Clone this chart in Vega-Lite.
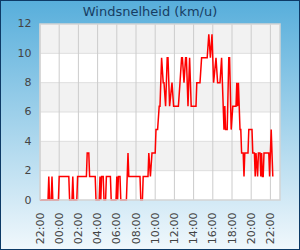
{
  "$schema": "https://vega.github.io/schema/vega-lite/v6.json",
  "width": 300,
  "height": 250,
  "autosize": {"type": "none"},
  "padding": 0,
  "background": "#eef7fc",
  "config": {
    "view": {
      "fill": {"gradient": "linear", "x1": 0, "y1": 0, "x2": 0, "y2": 1, "stops": [{"offset": 0, "color": "#57aedb"}, {"offset": 1, "color": "#f1f8fc"}]},
      "stroke": "#0d3a66",
      "strokeWidth": 2
    },
    "font": "DejaVu Sans",
    "axis": {"labelOverlap": false, "labelBound": false}
  },
  "title": {"text": "Windsnelheid (km/u)", "fontSize": 13, "font": "DejaVu Sans", "fontWeight": "normal", "color": "#173d63", "anchor": "middle", "frame": "group", "offset": -19},
  "datasets": {
    "wind": [
      {"t":"2024-05-01T22:00Z","v":0},{"t":"2024-05-01T22:50Z","v":0},{"t":"2024-05-01T22:55Z","v":1.6},{"t":"2024-05-01T23:00Z","v":0},
      {"t":"2024-05-01T23:10Z","v":0},{"t":"2024-05-01T23:15Z","v":1.6},{"t":"2024-05-01T23:20Z","v":0},{"t":"2024-05-01T23:55Z","v":0},
      {"t":"2024-05-02T00:00Z","v":1.6},{"t":"2024-05-02T01:00Z","v":1.6},{"t":"2024-05-02T01:05Z","v":0},{"t":"2024-05-02T01:20Z","v":0},
      {"t":"2024-05-02T01:25Z","v":1.6},{"t":"2024-05-02T01:30Z","v":0},{"t":"2024-05-02T01:50Z","v":0},{"t":"2024-05-02T01:55Z","v":1.6},
      {"t":"2024-05-02T02:50Z","v":1.6},{"t":"2024-05-02T02:55Z","v":3.2},{"t":"2024-05-02T03:05Z","v":3.2},{"t":"2024-05-02T03:10Z","v":1.6},
      {"t":"2024-05-02T03:45Z","v":1.6},{"t":"2024-05-02T03:50Z","v":0},{"t":"2024-05-02T04:10Z","v":0},{"t":"2024-05-02T04:15Z","v":1.6},
      {"t":"2024-05-02T04:20Z","v":0},{"t":"2024-05-02T04:25Z","v":1.6},{"t":"2024-05-02T04:35Z","v":1.6},{"t":"2024-05-02T04:40Z","v":0},
      {"t":"2024-05-02T04:50Z","v":0},{"t":"2024-05-02T04:55Z","v":1.6},{"t":"2024-05-02T05:20Z","v":1.6},{"t":"2024-05-02T05:25Z","v":0},
      {"t":"2024-05-02T05:55Z","v":0},{"t":"2024-05-02T06:00Z","v":1.6},{"t":"2024-05-02T06:05Z","v":0},{"t":"2024-05-02T06:10Z","v":1.6},
      {"t":"2024-05-02T06:20Z","v":1.6},{"t":"2024-05-02T06:25Z","v":0},{"t":"2024-05-02T07:00Z","v":0},{"t":"2024-05-02T07:10Z","v":3.2},
      {"t":"2024-05-02T07:15Z","v":1.6},{"t":"2024-05-02T08:25Z","v":1.6},{"t":"2024-05-02T08:30Z","v":0},{"t":"2024-05-02T08:40Z","v":0},
      {"t":"2024-05-02T08:45Z","v":1.6},{"t":"2024-05-02T09:15Z","v":1.6},{"t":"2024-05-02T09:20Z","v":3.2},{"t":"2024-05-02T09:30Z","v":1.6},
      {"t":"2024-05-02T09:40Z","v":3.2},{"t":"2024-05-02T10:00Z","v":3.2},{"t":"2024-05-02T10:05Z","v":4.8},{"t":"2024-05-02T10:15Z","v":4.8},
      {"t":"2024-05-02T10:25Z","v":6.4},{"t":"2024-05-02T10:30Z","v":6.4},{"t":"2024-05-02T10:40Z","v":9.7},{"t":"2024-05-02T10:50Z","v":8.0},
      {"t":"2024-05-02T10:55Z","v":8.0},{"t":"2024-05-02T11:05Z","v":6.4},{"t":"2024-05-02T11:15Z","v":9.7},{"t":"2024-05-02T11:20Z","v":9.7},
      {"t":"2024-05-02T11:30Z","v":6.4},{"t":"2024-05-02T11:45Z","v":8.0},{"t":"2024-05-02T11:55Z","v":6.4},{"t":"2024-05-02T12:25Z","v":6.4},
      {"t":"2024-05-02T12:35Z","v":8.0},{"t":"2024-05-02T12:45Z","v":9.7},{"t":"2024-05-02T12:50Z","v":9.7},{"t":"2024-05-02T13:00Z","v":8.0},
      {"t":"2024-05-02T13:10Z","v":9.7},{"t":"2024-05-02T13:15Z","v":9.7},{"t":"2024-05-02T13:25Z","v":6.4},{"t":"2024-05-02T13:35Z","v":9.7},
      {"t":"2024-05-02T13:45Z","v":6.4},{"t":"2024-05-02T14:15Z","v":6.4},{"t":"2024-05-02T14:20Z","v":8.0},{"t":"2024-05-02T14:40Z","v":8.0},
      {"t":"2024-05-02T14:50Z","v":9.7},{"t":"2024-05-02T15:25Z","v":9.7},{"t":"2024-05-02T15:35Z","v":11.3},{"t":"2024-05-02T15:45Z","v":9.7},
      {"t":"2024-05-02T15:55Z","v":11.3},{"t":"2024-05-02T16:05Z","v":8.0},{"t":"2024-05-02T16:20Z","v":9.7},{"t":"2024-05-02T16:30Z","v":8.0},
      {"t":"2024-05-02T16:45Z","v":8.0},{"t":"2024-05-02T16:55Z","v":9.7},{"t":"2024-05-02T17:00Z","v":8.0},{"t":"2024-05-02T17:10Z","v":4.8},
      {"t":"2024-05-02T17:15Z","v":6.4},{"t":"2024-05-02T17:20Z","v":4.8},{"t":"2024-05-02T17:30Z","v":4.8},{"t":"2024-05-02T17:40Z","v":9.7},
      {"t":"2024-05-02T17:45Z","v":9.7},{"t":"2024-05-02T17:55Z","v":4.8},{"t":"2024-05-02T18:05Z","v":6.4},{"t":"2024-05-02T18:25Z","v":6.4},
      {"t":"2024-05-02T18:30Z","v":8.0},{"t":"2024-05-02T18:35Z","v":6.4},{"t":"2024-05-02T18:40Z","v":8.0},{"t":"2024-05-02T18:50Z","v":4.8},
      {"t":"2024-05-02T18:55Z","v":4.8},{"t":"2024-05-02T19:00Z","v":3.2},{"t":"2024-05-02T19:10Z","v":3.2},{"t":"2024-05-02T19:15Z","v":1.6},
      {"t":"2024-05-02T19:20Z","v":3.2},{"t":"2024-05-02T19:40Z","v":3.2},{"t":"2024-05-02T19:45Z","v":4.8},{"t":"2024-05-02T20:05Z","v":4.8},
      {"t":"2024-05-02T20:10Z","v":3.2},{"t":"2024-05-02T20:20Z","v":3.2},{"t":"2024-05-02T20:25Z","v":1.6},{"t":"2024-05-02T20:30Z","v":3.2},
      {"t":"2024-05-02T20:40Z","v":1.6},{"t":"2024-05-02T20:45Z","v":3.2},{"t":"2024-05-02T20:55Z","v":3.2},{"t":"2024-05-02T21:00Z","v":1.6},
      {"t":"2024-05-02T21:05Z","v":3.2},{"t":"2024-05-02T21:10Z","v":1.6},{"t":"2024-05-02T21:15Z","v":1.6},{"t":"2024-05-02T21:20Z","v":3.2},
      {"t":"2024-05-02T21:50Z","v":3.2},{"t":"2024-05-02T21:55Z","v":1.6},{"t":"2024-05-02T22:05Z","v":4.8},{"t":"2024-05-02T22:15Z","v":1.6}
    ],
    "frame": [{"start":"2024-05-01T22:00Z","end":"2024-05-02T23:00Z","low":0,"high":12}],
    "bands": [
      {"start":"2024-05-01T22:00Z","end":"2024-05-02T23:00Z","low":2,"high":4},
      {"start":"2024-05-01T22:00Z","end":"2024-05-02T23:00Z","low":6,"high":8},
      {"start":"2024-05-01T22:00Z","end":"2024-05-02T23:00Z","low":10,"high":12}
    ],
    "hlines": [
      {"start":"2024-05-01T22:00Z","end":"2024-05-02T23:00Z","level":2},
      {"start":"2024-05-01T22:00Z","end":"2024-05-02T23:00Z","level":4},
      {"start":"2024-05-01T22:00Z","end":"2024-05-02T23:00Z","level":6},
      {"start":"2024-05-01T22:00Z","end":"2024-05-02T23:00Z","level":8},
      {"start":"2024-05-01T22:00Z","end":"2024-05-02T23:00Z","level":10}
    ],
    "vlines": [
      {"time":"2024-05-01T22:00Z","low":0,"high":12},{"time":"2024-05-02T00:00Z","low":0,"high":12},{"time":"2024-05-02T02:00Z","low":0,"high":12},
      {"time":"2024-05-02T04:00Z","low":0,"high":12},{"time":"2024-05-02T06:00Z","low":0,"high":12},{"time":"2024-05-02T08:00Z","low":0,"high":12},
      {"time":"2024-05-02T10:00Z","low":0,"high":12},{"time":"2024-05-02T12:00Z","low":0,"high":12},{"time":"2024-05-02T14:00Z","low":0,"high":12},
      {"time":"2024-05-02T16:00Z","low":0,"high":12},{"time":"2024-05-02T18:00Z","low":0,"high":12},{"time":"2024-05-02T20:00Z","low":0,"high":12},
      {"time":"2024-05-02T22:00Z","low":0,"high":12}
    ]
  },
  "layer": [
    {
      "data": {"name": "frame"},
      "mark": {"type": "rect", "fill": "#ffffff"},
      "encoding": {
        "x": {"field": "start", "type": "temporal", "title": null,
          "scale": {"type": "utc", "domain": [1714585800000, 1714698300000], "nice": false},
          "axis": {"title": null, "orient": "bottom", "offset": -50, "tickCount": 20,
            "values": [1714600800000, 1714608000000, 1714615200000, 1714622400000, 1714629600000, 1714636800000, 1714644000000, 1714651200000, 1714658400000, 1714665600000, 1714672800000, 1714680000000, 1714687200000],
            "labelExpr": "utcFormat(datum.value, '%H:%M')", "labelAngle": 270, "ticks": false, "domain": false, "grid": false,
            "labelPadding": 12, "labelFontSize": 11, "labelColor": "#444444", "labelFont": "DejaVu Sans", "labelOverlap": false, "labelFlush": false}},
        "x2": {"field": "end"},
        "y": {"field": "low", "type": "quantitative", "title": null,
          "scale": {"domain": [-3.40909, 13.63636], "nice": false, "zero": false},
          "axis": {"title": null, "orient": "left", "offset": -40, "tickCount": 20, "values": [0, 2, 4, 6, 8, 10, 12], "ticks": false, "domain": false, "grid": false,
            "labelPadding": 9, "labelFontSize": 11, "labelColor": "#444444", "labelFont": "DejaVu Sans", "labelOverlap": false, "labelFlush": false}},
        "y2": {"field": "high"}
      }
    },
    {
      "data": {"name": "bands"},
      "mark": {"type": "rect", "fill": "#f2f2f2"},
      "encoding": {
        "x": {"field": "start", "type": "temporal", "title": null},
        "x2": {"field": "end"},
        "y": {"field": "low", "type": "quantitative", "title": null},
        "y2": {"field": "high"}
      }
    },
    {
      "data": {"name": "hlines"},
      "mark": {"type": "rule", "stroke": "#dedede", "strokeWidth": 1},
      "encoding": {
        "x": {"field": "start", "type": "temporal", "title": null},
        "x2": {"field": "end"},
        "y": {"field": "level", "type": "quantitative", "title": null}
      }
    },
    {
      "data": {"name": "vlines"},
      "mark": {"type": "rule", "stroke": "#cccccc", "strokeWidth": 1},
      "encoding": {
        "x": {"field": "time", "type": "temporal", "title": null},
        "y": {"field": "low", "type": "quantitative", "title": null},
        "y2": {"field": "high"}
      }
    },
    {
      "data": {"name": "wind"},
      "mark": {"type": "line", "color": "#ff0000", "strokeWidth": 1.5, "interpolate": "linear"},
      "encoding": {
        "x": {"field": "t", "type": "temporal", "title": null},
        "y": {"field": "v", "type": "quantitative", "title": null}
      }
    },
    {
      "data": {"name": "frame"},
      "mark": {"type": "rect", "fill": "transparent", "stroke": "#d4d4d4", "strokeWidth": 1.5},
      "encoding": {
        "x": {"field": "start", "type": "temporal", "title": null},
        "x2": {"field": "end"},
        "y": {"field": "low", "type": "quantitative", "title": null},
        "y2": {"field": "high"}
      }
    }
  ]
}
